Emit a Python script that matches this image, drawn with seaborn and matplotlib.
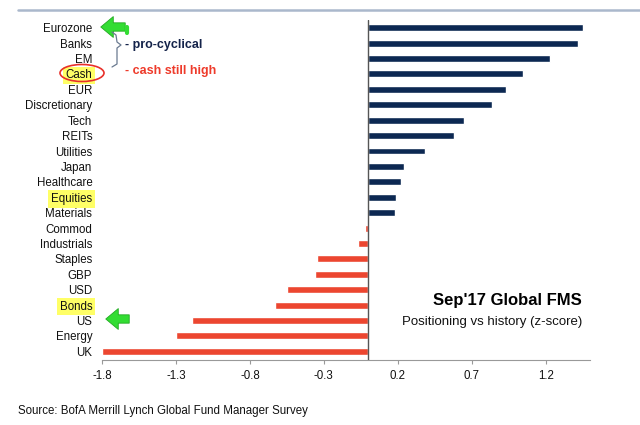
import pandas as pd
import seaborn as sns
import matplotlib.pyplot as plt
from matplotlib.patches import Ellipse, FancyArrowPatch
from matplotlib.lines import Line2D

# Data
assets = ['Eurozone', 'Banks', 'EM', 'Cash', 'EUR', 'Discretionary', 'Tech', 'REITs',
          'Utilities', 'Japan', 'Healthcare', 'Equities', 'Materials', 'Commod',
          'Industrials', 'Staples', 'GBP', 'USD', 'Bonds', 'US', 'Energy', 'UK']
zscores = [1.45, 1.42, 1.23, 1.05, 0.93, 0.84, 0.65, 0.58,
           0.385, 0.24, 0.225, 0.185, 0.18, -0.02,
           -0.07, -0.345, -0.36, -0.55, -0.63, -1.19, -1.30, -1.80]
x_ticks = [-1.8, -1.3, -0.8, -0.3, 0.2, 0.7, 1.2]
highlighted = ['Cash', 'Equities', 'Bonds']

df = pd.DataFrame({'asset': assets, 'zscore': zscores})
df['sign'] = ['pos' if v >= 0 else 'neg' for v in df['zscore']]

sns.set_style('white')
plt.rcParams['font.family'] = ['Liberation Sans', 'DejaVu Sans']
plt.rcParams['text.color'] = '#111111'
plt.rcParams['xtick.labelcolor'] = '#111111'
plt.rcParams['ytick.labelcolor'] = '#111111'

W, H = 640, 425
fig = plt.figure(figsize=(6.4, 4.25), dpi=100)
ax = fig.add_axes([102 / W, 1 - 360 / H, (590 - 102) / W, (360 - 20) / H])


def px(x, y):
    # figure pixel -> figure fraction
    return (x / W, 1 - y / H)


sns.barplot(data=df, x='zscore', y='asset', hue='sign',
            palette={'pos': '#0c2852', 'neg': '#ec4630'}, saturation=1,
            dodge=False, width=0.45, legend=False, ax=ax, orient='h')

ax.axvline(0, color='#555555', lw=1, zorder=3)
ax.set_xlim(-1.8, 1.5)
ax.set_ylim(len(assets) - 1 + 0.56, -0.5)
ax.set_xticks(x_ticks)
ax.set_xticklabels([f'{t:.1f}' for t in x_ticks])
ax.set_xlabel('')
ax.set_ylabel('')
for side in ['top', 'right', 'left']:
    ax.spines[side].set_visible(False)
ax.spines['bottom'].set_color('#999999')
ax.tick_params(axis='x', length=3, color='#999999', labelsize=8.3, pad=4, bottom=True)
ax.tick_params(axis='y', length=0, labelsize=8.3, pad=7)

for lab in ax.get_yticklabels():
    if lab.get_text() in highlighted:
        lab.set_bbox(dict(facecolor='#ffff66', edgecolor='none', pad=2))

# header rule
fig.add_artist(Line2D([18 / W, 1], [1 - 10 / H] * 2, color='#aab8cc', lw=1.8))

# titles inside the plot
fig.text(*px(582, 300), "Sep'17 Global FMS", ha='right', va='center',
         fontsize=12, fontweight='bold', color='black')
fig.text(*px(582, 322), 'Positioning vs history (z-score)', ha='right', va='center',
         fontsize=9.5)

# source
fig.text(*px(18, 411), 'Source: BofA Merrill Lynch Global Fund Manager Survey',
         ha='left', va='center', fontsize=8.3)

# annotations
fig.add_artist(Ellipse(px(82, 73), 44 / W, 17 / H, transform=fig.transFigure,
                       fill=False, edgecolor='#e8302a', lw=1.2))

bx = [112, 116, 117, 121, 117, 117, 112]
by = [32, 35, 42, 45, 48, 64, 67]
fig.add_artist(Line2D([x / W for x in bx], [1 - y / H for y in by],
                      color='#6a7a90', lw=0.9))
fig.text(*px(125, 45), '- pro-cyclical', ha='left', va='center',
         fontsize=9, fontweight='bold', color='#14234a')
fig.text(*px(125, 71), '- cash still high', ha='left', va='center',
         fontsize=9, fontweight='bold', color='#ee3b2b')

arrow_style = 'simple,head_length=0.9,head_width=1.5,tail_width=0.6'
for tail, tip in [((128, 27), (98, 27)), ((132, 319), (103, 319))]:
    fig.add_artist(FancyArrowPatch(px(*tail), px(*tip), transform=fig.transFigure,
                                   arrowstyle=arrow_style, mutation_scale=10,
                                   facecolor='#33dd33', edgecolor='#22aa22', lw=0.6))
fig.add_artist(Line2D([127 / W, 127 / W], [1 - 27 / H, 1 - 33 / H],
                      color='#33dd33', lw=3, solid_capstyle='round'))

fig.savefig('out.png', dpi=100)
